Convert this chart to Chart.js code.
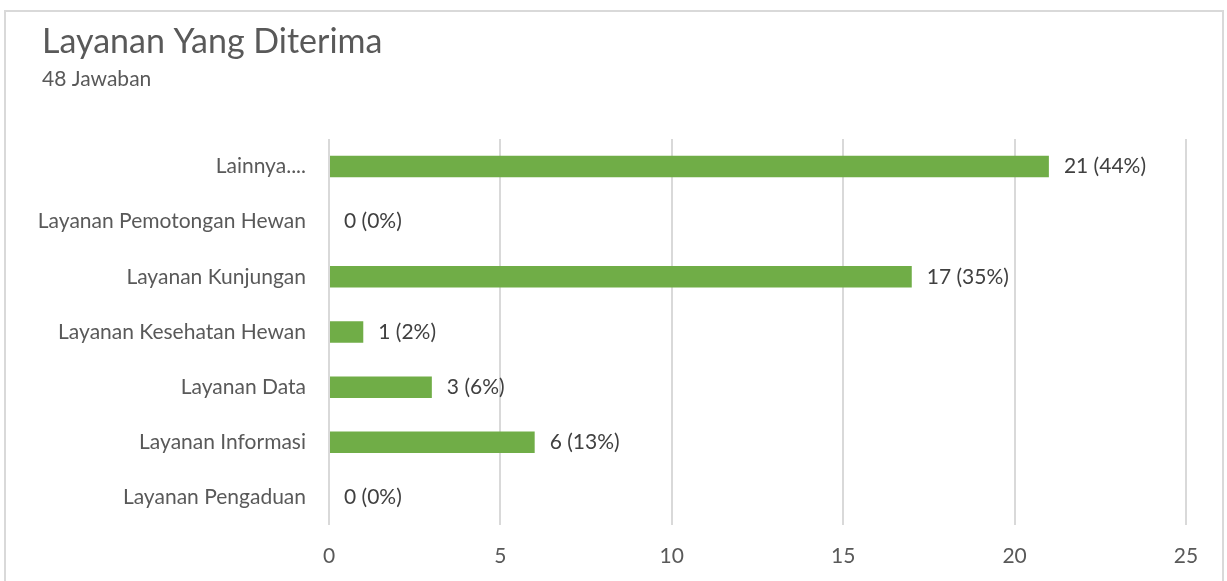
<!DOCTYPE html>
<html lang="id">
<head>
  <meta charset="UTF-8"/>
  <title>Layanan Yang Diterima</title>
  <script src="https://cdn.jsdelivr.net/npm/chart.js"></script>
  <style>
    html, body { margin: 0; padding: 0; background: #fff; }
    .wrap { position: relative; width: 1227px; height: 581px; }
    /* thin grey frame like the Excel chart area */
    .frame {
      position: absolute; left: 4px; top: 10px; width: 1220px; height: 600px;
      border: 2px solid #d9d9d9; border-bottom: none; box-sizing: border-box;
    }
    canvas { position: absolute; left: 0; top: 0; }
  </style>
</head>
<body>
  <div class="wrap">
    <div class="frame"></div>
    <canvas id="chart" width="1227" height="581"></canvas>
  </div>

  <script>
    // Data
    const categories = [
      'Lainnya....',
      'Layanan Pemotongan Hewan',
      'Layanan Kunjungan',
      'Layanan Kesehatan Hewan',
      'Layanan Data',
      'Layanan Informasi',
      'Layanan Pengaduan'
    ];
    const counts   = [21, 0, 17, 1, 3, 6, 0];
    const percents = [44, 0, 35, 2, 6, 13, 0];
    const xTicks   = [0, 5, 10, 15, 20, 25];

    const FONT = 'Lato, "Open Sans", sans-serif';
    const TEXT = '#595959';
    const TITLE_INDENT = 42;

    // title + subtitle sit indented from the left edge, the axis labels don't
    const indentTitles = {
      id: 'indentTitles',
      afterLayout(chart) {
        chart.boxes.forEach(b => {
          if (b.options && b.options.text !== undefined && b.position === 'top') {
            b.left += TITLE_INDENT;
            b.right += TITLE_INDENT;
          }
        });
      }
    };

    // draws "n (p%)" to the right of each bar
    const valueLabels = {
      id: 'valueLabels',
      afterDatasetsDraw(chart) {
        const ctx = chart.ctx;
        const meta = chart.getDatasetMeta(0);
        ctx.save();
        ctx.font = '21px ' + FONT;
        ctx.fillStyle = '#404040';
        ctx.textBaseline = 'middle';
        meta.data.forEach((bar, i) => {
          ctx.fillText(`${counts[i]} (${percents[i]}%)`, bar.x + 15, bar.y);
        });
        ctx.restore();
      }
    };

    new Chart(document.getElementById('chart'), {
      type: 'bar',
      data: {
        labels: categories,
        datasets: [{
          data: counts,
          backgroundColor: '#70ad47',
          categoryPercentage: 1,
          barPercentage: 0.39
        }]
      },
      options: {
        indexAxis: 'y',
        responsive: false,
        animation: false,
        layout: { padding: { left: 0, right: 41, top: 10, bottom: 14 } },
        plugins: {
          legend: { display: false },
          tooltip: { enabled: false },
          title: {
            display: true,
            text: 'Layanan Yang Diterima',
            align: 'start',
            color: TEXT,
            font: { family: FONT, size: 34, weight: 'normal', lineHeight: 1.2 },
            padding: { top: 12, bottom: 0 }
          },
          subtitle: {
            display: true,
            text: '48 Jawaban',
            align: 'start',
            color: TEXT,
            font: { family: FONT, size: 21, weight: 'normal', lineHeight: 1.2 },
            padding: { top: 4, bottom: 47 }
          }
        },
        scales: {
          x: {
            min: 0,
            max: 25,
            afterBuildTicks: s => { s.ticks = xTicks.map(v => ({ value: v })); },
            afterFit: s => { s.height = 42; },
            grid: { color: '#d9d9d9', lineWidth: 2, drawTicks: false },
            border: { display: false },
            ticks: { color: TEXT, font: { family: FONT, size: 21 }, padding: 19 }
          },
          y: {
            afterFit: s => { s.width = 329; },
            grid: { display: false, drawTicks: false },
            border: { display: false },
            ticks: { color: TEXT, font: { family: FONT, size: 21 }, padding: 23 }
          }
        }
      },
      plugins: [indentTitles, valueLabels]
    });
  </script>
</body>
</html>
